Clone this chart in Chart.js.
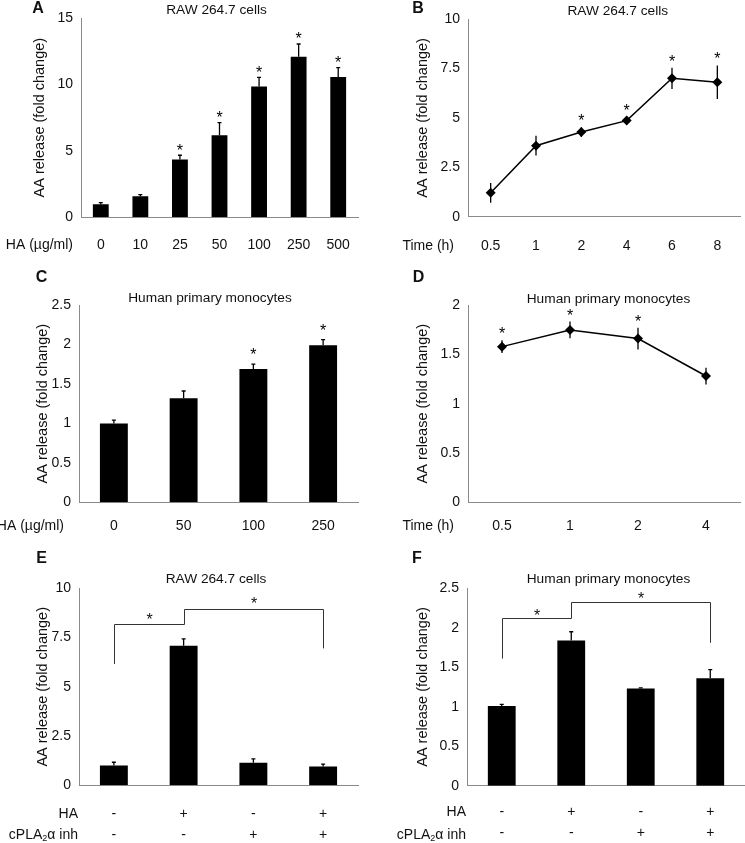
<!DOCTYPE html>
<html><head><meta charset="utf-8">
<script src="https://cdn.jsdelivr.net/npm/chart.js@4.4.0/dist/chart.umd.min.js"></script>
<style>
html,body{margin:0;padding:0;background:#fff;}
#wrap{position:relative;width:745px;height:843px;overflow:hidden;background:#fff;}
canvas{position:absolute;display:block;}
</style></head><body><div id="wrap">
<canvas id="cA" width="372" height="268" style="left:0;top:0"></canvas>
<canvas id="cB" width="373" height="268" style="left:372px;top:0"></canvas>
<canvas id="cC" width="372" height="280" style="left:0;top:268px"></canvas>
<canvas id="cD" width="373" height="280" style="left:372px;top:268px"></canvas>
<canvas id="cE" width="372" height="295" style="left:0;top:548px"></canvas>
<canvas id="cF" width="373" height="295" style="left:372px;top:548px"></canvas>
</div>
<script>
// ---- data ----
const doseRawLabels = ['0','10','25','50','100','250','500'];
const doseRawMean = [0.96,1.56,4.34,6.18,9.86,12.1,10.56];
const doseRawErr  = [0.12,0.13,0.32,0.95,0.68,0.96,0.71];
const doseRawSig  = [false,false,true,true,true,true,true];

const timeRawLabels = ['0.5','1','2','4','6','8'];
const timeRawMean = [1.21,3.59,4.28,4.86,7.0,6.8];
const timeRawErr  = [0.5,0.5,0.25,0.2,0.54,0.85];
const timeRawSig  = [false,false,true,true,true,true];

const doseHumLabels = ['0','50','100','250'];
const doseHumMean = [1.0,1.32,1.69,1.99];
const doseHumErr  = [0.04,0.09,0.06,0.07];
const doseHumSig  = [false,false,true,true];

const timeHumLabels = ['0.5','1','2','4'];
const timeHumMean = [1.578,1.747,1.66,1.28];
const timeHumErr  = [0.065,0.085,0.11,0.085];
const timeHumSig  = [true,true,true,false];

const inhLabels = [['-','-'],['+','-'],['-','+'],['+','+']];
const inhRawMean = [1.0,7.09,1.15,0.96];
const inhRawErr  = [0.17,0.34,0.19,0.11];
const inhHumMean = [1.01,1.84,1.23,1.36];
const inhHumErr  = [0.02,0.11,0.01,0.11];
// comparison brackets: [fromIndex, toIndex, leftLegBottom, barTop, rightLegBottom, starValue]
const inhRawBrackets = [[0,1,6.16,8.19,8.19,8.6],[1,3,8.19,8.95,6.95,9.4]];
const inhHumBrackets = [[0,1,1.61,2.12,2.12,2.2],[1,3,2.12,2.33,1.81,2.41]];

const yTitleText = 'AA release (fold change)';

// ---- drawing ----
const FAM = '"Liberation Sans", Arial, Helvetica, sans-serif';
Chart.defaults.font.family = FAM;
Chart.defaults.color = '#111';

const panelPlugin = {
  id: 'panel',
  afterDatasetsDraw(chart) {
    const o = chart.options.plugins.panel;
    const ctx = chart.ctx, x = chart.scales.x, y = chart.scales.y;
    ctx.save();
    ctx.strokeStyle = '#000';
    ctx.fillStyle = '#000';
    ctx.lineWidth = 1.3;
    o.mean.forEach((m, i) => {
      const px = x.getPixelForValue(i);
      const top = y.getPixelForValue(m + o.err[i]);
      const bot = y.getPixelForValue(o.bar ? m : m - o.err[i]);
      ctx.beginPath();
      ctx.moveTo(px, bot); ctx.lineTo(px, top);
      ctx.moveTo(px - o.cap, top); ctx.lineTo(px + o.cap, top);
      if (!o.bar) { ctx.moveTo(px - o.cap, bot); ctx.lineTo(px + o.cap, bot); }
      ctx.stroke();
      if (o.sig && o.sig[i]) {
        ctx.font = '16px ' + FAM; ctx.textAlign = 'center'; ctx.textBaseline = 'alphabetic';
        ctx.fillText('*', px, top - o.starOff + 9);
      }
    });
    if (o.brackets) {
      ctx.strokeStyle = '#333'; ctx.lineWidth = 1;
      o.brackets.forEach(b => {
        const x1 = Math.round(x.getPixelForValue(b[0])) + 0.5, x2 = Math.round(x.getPixelForValue(b[1])) + 0.5;
        const yl = y.getPixelForValue(b[2]), yt = Math.round(y.getPixelForValue(b[3])) + 0.5, yr = y.getPixelForValue(b[4]);
        ctx.beginPath();
        ctx.moveTo(x1, yl); ctx.lineTo(x1, yt); ctx.lineTo(x2, yt); ctx.lineTo(x2, yr);
        ctx.stroke();
        ctx.font = '16px ' + FAM; ctx.textAlign = 'center'; ctx.textBaseline = 'alphabetic'; ctx.fillStyle = '#111';
        ctx.fillText('*', (x1 + x2) / 2, y.getPixelForValue(b[5]) + 9);
      });
    }
    // texts
    ctx.fillStyle = '#111';
    ctx.textBaseline = 'alphabetic';
    ctx.font = 'bold 16px ' + FAM; ctx.textAlign = 'center';
    ctx.fillText(o.letter, o.letterX, o.letterY);
    ctx.font = '13.7px ' + FAM;
    ctx.fillText(o.title, o.titleX, o.titleY);
    ctx.font = '14px ' + FAM; ctx.textAlign = 'right'; ctx.textBaseline = 'middle';
    if (o.xTitle) ctx.fillText(o.xTitle, o.xTitleRight, o.xTitleY);
    if (o.rowTitles) {
      ctx.fillText('HA', o.xTitleRight, o.rowY[0]);
      // cPLA2α inh with subscript 2
      const w1 = ctx.measureText('cPLA').width;
      const w3 = ctx.measureText('α inh').width;
      ctx.font = '9px ' + FAM;
      const w2 = ctx.measureText('2').width;
      const start = o.xTitleRight - (w1 + w2 + w3);
      ctx.textAlign = 'left';
      ctx.font = '14px ' + FAM;
      ctx.fillText('cPLA', start, o.rowY[1]);
      ctx.font = '9px ' + FAM;
      ctx.fillText('2', start + w1, o.rowY[1] + 4);
      ctx.font = '14px ' + FAM;
      ctx.fillText('α inh', start + w1 + w2, o.rowY[1]);
    }
    ctx.restore();
  }
};

function makeChart(id, type, labels, mean, p) {
  const isLine = type === 'line';
  return new Chart(document.getElementById(id), {
    type,
    data: { labels, datasets: [{
      data: mean,
      backgroundColor: '#000', borderColor: '#000',
      borderWidth: isLine ? 1.5 : 0,
      pointStyle: 'rectRot', pointRadius: 5, pointBackgroundColor: '#000', pointBorderWidth: 0,
      tension: 0,
      barPercentage: 0.4, categoryPercentage: 1
    }]},
    options: {
      responsive: false, animation: false, events: [],
      layout: { padding: { left: 0, right: p.padR, top: p.padT, bottom: 0 } },
      plugins: { legend: { display: false }, tooltip: { enabled: false }, panel: p.panel },
      scales: {
        x: {
          offset: true,
          grid: { display: false, drawTicks: false },
          border: { color: '#8a8a8a', width: 1 },
          ticks: { font: { size: 14, lineHeight: p.xLine || 1.2 }, color: '#111', padding: p.xPad, maxRotation: 0, autoSkip: false },
          afterFit(s) { s.height = p.xH; }
        },
        y: {
          min: 0, max: p.max,
          grid: { display: false, drawTicks: false },
          border: { color: '#8a8a8a', width: 1 },
          ticks: { stepSize: p.step, font: { size: 14 }, color: '#111', padding: 8,
                   callback: v => String(+Number(v).toFixed(2)) },
          title: { display: true, text: yTitleText, font: { size: 14.5 }, color: '#111', padding: { top: p.yTitlePad, bottom: 0 } },
          afterFit(s) { s.width = p.yW; }
        }
      }
    },
    plugins: [panelPlugin]
  });
}

makeChart('cA', 'bar', doseRawLabels, doseRawMean, {
  max: 15, step: 5, padR: 14, padT: 18.3, xH: 51, xPad: 19.6, yW: 81, yTitlePad: 31.3,
  panel: { mean: doseRawMean, err: doseRawErr, sig: doseRawSig, bar: true, cap: 2, starOff: 8.5,
    letter: 'A', letterX: 38, letterY: 13, title: 'RAW 264.7 cells', titleX: 216.5, titleY: 14,
    xTitle: 'HA (\u00b5g/ml)', xTitleRight: 73, xTitleY: 245 }
});
makeChart('cB', 'line', timeRawLabels, timeRawMean, {
  max: 10, step: 2.5, padR: 0, padT: 19, xH: 51.3, xPad: 20.9, yW: 96, yTitlePad: 42.3,
  panel: { mean: timeRawMean, err: timeRawErr, sig: timeRawSig, bar: false, cap: 0, starOff: 10,
    letter: 'B', letterX: 46, letterY: 13, title: 'RAW 264.7 cells', titleX: 245.8, titleY: 14.5,
    xTitle: 'Time (h)', xTitleRight: 82, xTitleY: 246 }
});
makeChart('cC', 'bar', doseHumLabels, doseHumMean, {
  max: 2.5, step: 0.5, padR: 14, padT: 37, xH: 45.7, xPad: 15.3, yW: 79, yTitlePad: 34.3,
  panel: { mean: doseHumMean, err: doseHumErr, sig: doseHumSig, bar: true, cap: 2, starOff: 13,
    letter: 'C', letterX: 41.5, letterY: 14, title: 'Human primary monocytes', titleX: 210, titleY: 34,
    xTitle: 'HA (\u00b5g/ml)', xTitleRight: 64, xTitleY: 258 }
});
makeChart('cD', 'line', timeHumLabels, timeHumMean, {
  max: 2, step: 0.5, padR: 0, padT: 37, xH: 45.7, xPad: 15.3, yW: 96, yTitlePad: 42.3,
  panel: { mean: timeHumMean, err: timeHumErr, sig: timeHumSig, bar: false, cap: 0, starOff: 10,
    letter: 'D', letterX: 46.5, letterY: 14, title: 'Human primary monocytes', titleX: 236.5, titleY: 35,
    xTitle: 'Time (h)', xTitleRight: 82, xTitleY: 258 }
});
makeChart('cE', 'bar', inhLabels, inhRawMean, {
  max: 10, step: 2.5, padR: 14, padT: 40.3, xH: 57.7, xPad: 17.75, xLine: 1.52, yW: 79, yTitlePad: 34.3,
  panel: { mean: inhRawMean, err: inhRawErr, bar: true, cap: 2, starOff: 9, brackets: inhRawBrackets,
    letter: 'E', letterX: 41.5, letterY: 15, title: 'RAW 264.7 cells', titleX: 216, titleY: 35.3,
    rowTitles: true, xTitleRight: 78, rowY: [265.7, 287] }
});
makeChart('cF', 'bar', inhLabels, inhHumMean, {
  max: 2.5, step: 0.5, padR: 0, padT: 40.3, xH: 57.3, xPad: 15.65, xLine: 1.52, yW: 95, yTitlePad: 42.3,
  panel: { mean: inhHumMean, err: inhHumErr, bar: true, cap: 2, starOff: 9, brackets: inhHumBrackets,
    letter: 'F', letterX: 45, letterY: 15, title: 'Human primary monocytes', titleX: 236.5, titleY: 35.3,
    rowTitles: true, xTitleRight: 94, rowY: [264, 287] }
});
</script>
</body></html>
